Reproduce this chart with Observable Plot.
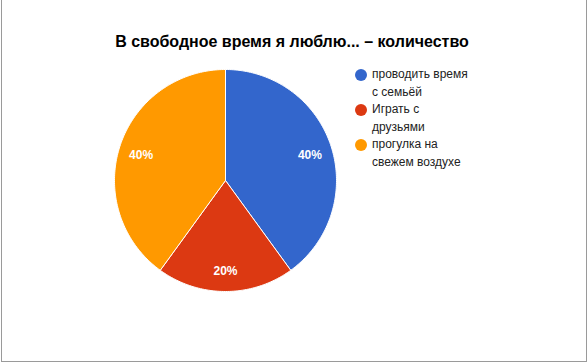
<!DOCTYPE html>
<html><head><meta charset="utf-8">
<script src="https://cdn.jsdelivr.net/npm/d3@7"></script>
<script src="https://cdn.jsdelivr.net/npm/@observablehq/plot@0.6"></script>
<style>
body{margin:0;background:#fff;font-family:Arial,"Liberation Sans",sans-serif;}
#wrap{position:relative;width:588px;height:363px;overflow:hidden;}
#frame{position:absolute;left:1px;top:-2px;width:586px;height:364px;border:1px solid #9a9a9a;border-top:none;box-sizing:border-box;}
#title{position:absolute;left:0;width:584px;top:33px;text-align:center;font-weight:bold;font-size:16px;color:#000;}
#legend{position:absolute;left:355px;top:66px;font-size:12px;color:#222;}
.item{position:relative;padding-left:17px;line-height:17.5px;margin-bottom:0px;}
.sw{position:absolute;left:0;top:3px;width:12px;height:12px;border-radius:50%;}
#chart{position:absolute;left:0;top:0;}
</style></head>
<body><div id="wrap"><div id="frame"></div><div id="chart"></div><div id="title"></div><div id="legend"></div></div>
<script>
const title = "В свободное время я люблю... – количество";
const categories = ["проводить время с семьёй", "Играть с друзьями", "прогулка на свежем воздухе"];
const legendLines = [["проводить время","с семьёй"],["Играть с","друзьями"],["прогулка на","свежем воздухе"]];
const values = [40, 20, 40];
const colors = ["#3366cc", "#dc3912", "#ff9900"];

const total = d3.sum(values);
let acc = 0;
const slices = categories.map((c, i) => {
  const a0 = acc / total * 2 * Math.PI;
  acc += values[i];
  const a1 = acc / total * 2 * Math.PI;
  return {name: c, value: values[i], a0, a1};
});
const poly = [];
for (const s of slices) {
  poly.push({name: s.name, x: 0, y: 0});
  const n = Math.max(2, Math.ceil((s.a1 - s.a0) / (Math.PI / 180)));
  for (let k = 0; k <= n; k++) {
    const a = s.a0 + (s.a1 - s.a0) * k / n;
    poly.push({name: s.name, x: Math.sin(a), y: Math.cos(a)});
  }
  poly.push({name: s.name, x: 0, y: 0});
}
const labels = slices.map(s => {
  const m = (s.a0 + s.a1) / 2, r = 0.8;
  return {text: Math.round(s.value / total * 100) + "%", x: r * Math.sin(m), y: r * Math.cos(m)};
});

const chart = Plot.plot({
  width: 588, height: 363,
  marginLeft: 114, marginRight: 252, marginTop: 69, marginBottom: 72,
  x: {domain: [-1, 1], axis: null},
  y: {domain: [-1, 1], axis: null},
  color: {domain: categories, range: colors},
  style: {background: "transparent", fontFamily: "Arial, 'Liberation Sans', sans-serif"},
  marks: [
    Plot.line(poly, {x: "x", y: "y", z: "name", fill: "name", stroke: "#fff", strokeWidth: 1, curve: "linear"}),
    Plot.text(labels, {x: "x", y: "y", text: "text", fill: "#fff", fontSize: 12, fontWeight: "bold", dy: 2})
  ]
});
document.getElementById("chart").appendChild(chart);
document.getElementById("title").textContent = title;
const lg = document.getElementById("legend");
categories.forEach((c, i) => {
  const d = document.createElement("div"); d.className = "item";
  const sw = document.createElement("span"); sw.className = "sw"; sw.style.background = colors[i];
  d.appendChild(sw);
  legendLines[i].forEach((t, j) => { if (j) d.appendChild(document.createElement("br")); d.appendChild(document.createTextNode(t)); });
  lg.appendChild(d);
});
</script></body></html>
